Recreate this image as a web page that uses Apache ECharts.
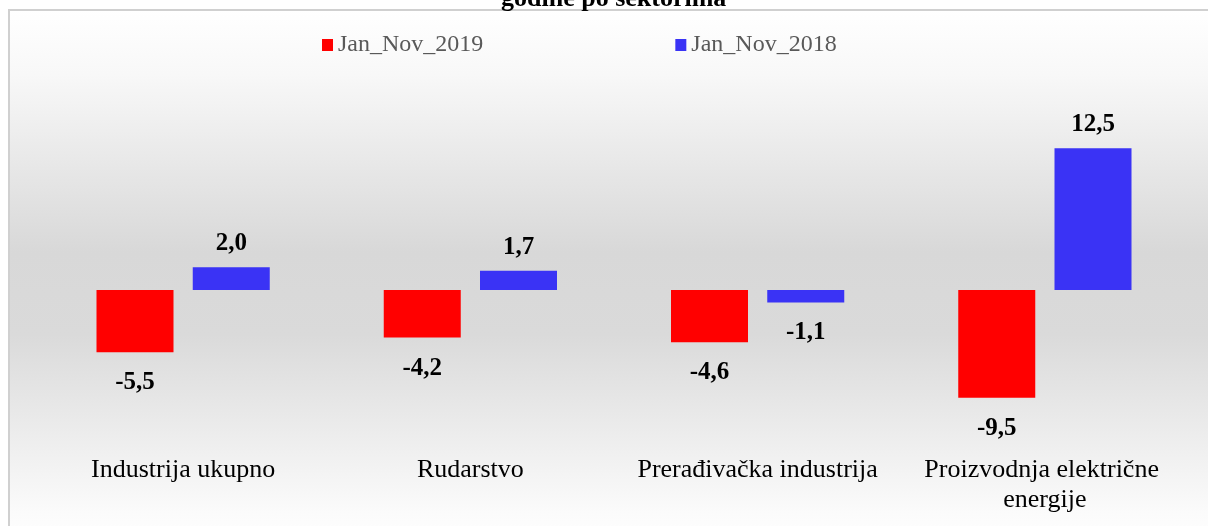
<!DOCTYPE html>
<html lang="sr">
<head>
    <meta charset="UTF-8">
    <title>Industrija po sektorima</title>
    <script src="https://cdn.jsdelivr.net/npm/echarts@6/dist/echarts.min.js"></script>
    <style>
        html, body { margin: 0; padding: 0; background: #fff; }
        #main { width: 1208px; height: 526px; }
    </style>
</head>
<body>
<div id="main"></div>
<script type="text/javascript">
    // podaci
    var sektori = ['Industrija ukupno', 'Rudarstvo', 'Prerađivačka industrija', 'Proizvodnja električne energije'];
    var jan_nov_2019 = [-5.5, -4.2, -4.6, -9.5];
    var jan_nov_2018 = [2.0, 1.7, -1.1, 12.5];

    var serif = '"Liberation Serif", "Times New Roman", serif';

    // label ide iznad za pozitivne, ispod za negativne vrijednosti
    function napravi(arr) {
        var out = [];
        for (var i = 0; i < arr.length; i++) {
            out.push({
                value: arr[i],
                label: arr[i] < 0 ? {position: 'bottom', distance: 18} : {position: 'top', distance: 11}
            });
        }
        return out;
    }

    var labelStyle = {
        show: true,
        color: '#000',
        fontFamily: serif,
        fontWeight: 'bold',
        fontSize: 25,
        formatter: function (p) { return p.value.toFixed(1).replace('.', ','); }
    };

    var myChart = echarts.init(document.getElementById('main'));

    var option = {
        animation: false,
        backgroundColor: '#fff',
        graphic: [{
            type: 'rect',
            z: -10,
            silent: true,
            shape: {x: 9, y: 10, width: 1220, height: 540},
            style: {
                fill: {
                    type: 'linear', x: 0, y: 0, x2: 0, y2: 1,
                    colorStops: [
                        {offset: 0, color: '#ffffff'},
                        {offset: 0.12, color: '#f8f8f8'},
                        {offset: 0.45, color: '#d8d8d8'},
                        {offset: 0.6, color: '#dadada'},
                        {offset: 0.93, color: '#fbfbfb'},
                        {offset: 1, color: '#ffffff'}
                    ]
                },
                stroke: '#d0d0d0',
                lineWidth: 2
            }
        }],
        title: {
            text: 'godine po sektorima',
            left: 501,
            top: -14,
            padding: 0,
            textStyle: {fontFamily: serif, fontWeight: 'bold', fontSize: 26, color: '#000'}
        },
        legend: {
            data: ['Jan_Nov_2019', 'Jan_Nov_2018'],
            left: 322,
            top: 33,
            padding: 0,
            itemWidth: 11,
            itemHeight: 12,
            itemGap: 192,
            icon: 'rect',
            textStyle: {fontFamily: serif, fontSize: 24, color: '#595959', padding: [0, 0, 0, 0]}
        },
        grid: {left: 39.5, right: 19.5, top: 86, bottom: 100},
        xAxis: {
            type: 'category',
            data: sektori,
            axisLine: {show: false},
            axisTick: {show: false},
            axisLabel: {
                interval: 0,
                margin: 29,
                color: '#000',
                fontFamily: serif,
                fontSize: 26,
                lineHeight: 30,
                width: 270,
                overflow: 'break'
            }
        },
        yAxis: {
            type: 'value',
            min: -12,
            max: 18,
            show: false,
            splitLine: {show: false}
        },
        series: [{
            name: 'Jan_Nov_2019',
            type: 'bar',
            barWidth: 77,
            barGap: '25%',
            itemStyle: {color: '#ff0000'},
            label: labelStyle,
            data: napravi(jan_nov_2019)
        }, {
            name: 'Jan_Nov_2018',
            type: 'bar',
            barWidth: 77,
            itemStyle: {color: '#3a33f5'},
            label: labelStyle,
            data: napravi(jan_nov_2018)
        }]
    };

    myChart.setOption(option);
</script>
</body>
</html>
